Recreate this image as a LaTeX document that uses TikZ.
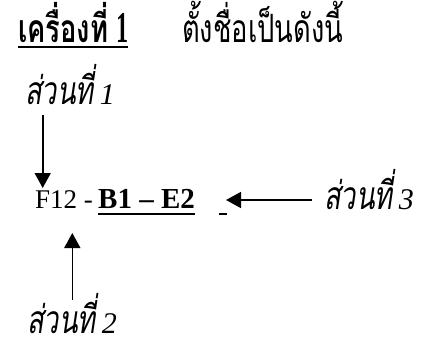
\documentclass[tikz,border=0pt]{standalone}
\usepackage{fontspec}
\usepackage{graphicx}
\setmainfont{Liberation Serif}
\newfontfamily\thai[Script=Thai]{Loma}
\usetikzlibrary{arrows.meta}
\newcommand\thtxt[1]{\scalebox{0.70}[1]{\thai\fontsize{39}{44}\selectfont #1}}
\newcommand\dig[1]{{\fontsize{30}{34}\selectfont\itshape #1}}
\begin{document}
\begin{tikzpicture}[x=1pt,y=1pt,
  txt/.style={anchor=base west,inner sep=0pt,font=\fontsize{29}{32}\selectfont},
  arr/.style={line width=1.6pt,-{Triangle[width=16pt,length=15pt]}},
  ul/.style={line width=1.8pt}]
\useasboundingbox (0,0) rectangle (430,349);
% title
\node[txt] (t1) at (18,307) {\thtxt{\bfseries เครื่องที่}\hspace{8pt}\scalebox{0.55}[1]{\fontsize{44}{48}\selectfont\bfseries 1}};
\node[txt] (t2) at (182,307) {\thtxt{ตั้งชื่อเป็นดังนี้}};
\draw[ul] ([yshift=-5pt]t1.base west) -- ([yshift=-5pt]t1.base east);
% parts
\node[txt] (s1) at (25,245) {\thtxt{\itshape ส่วนที่}\hspace{6pt}\dig{1}};
\node[txt,font=\fontsize{27}{30}\selectfont] (code) at (35,141) {F12 -};
\node[txt] (bold) at (98,141) {\bfseries B1 – E2};
\draw[ul] ([yshift=-6pt]bold.base west) -- ([yshift=-6pt]bold.base east);
\coordinate (g1) at (219,135);
\coordinate (g2) at (227,135);
\draw[ul] (g1) -- (g2);
\node[txt] (s3) at (324,140) {\thtxt{\itshape ส่วนที่}\hspace{6pt}\dig{3}};
\node[txt] (s2) at (27,16) {\thtxt{\itshape ส่วนที่}\hspace{6pt}\dig{2}};
% arrows
\coordinate (a1s) at (42.7,234);
\coordinate (a1e) at (42.7,161);
\draw[arr] (a1s) -- (a1e);
\coordinate (a2s) at (72.3,49);
\coordinate (a2e) at (72.3,116);
\draw[arr] (a2s) -- (a2e);
\coordinate (a3s) at (312,149);
\coordinate (a3e) at (226,149);
\draw[arr] (a3s) -- (a3e);
\end{tikzpicture}
\end{document}
